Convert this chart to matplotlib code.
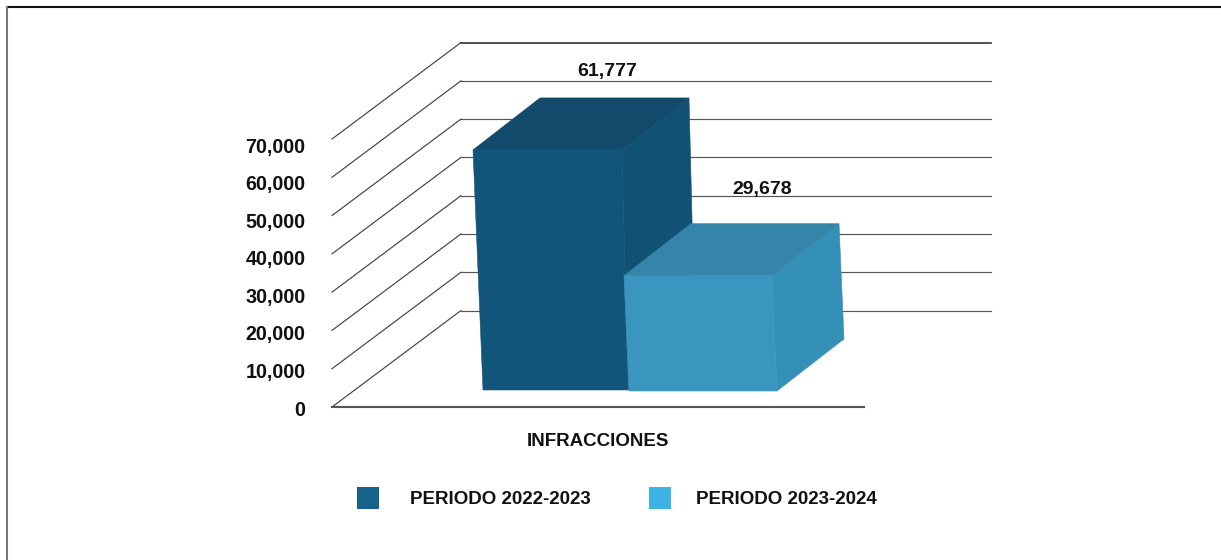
import matplotlib
matplotlib.use("Agg")
import matplotlib.pyplot as plt
from matplotlib.lines import Line2D
from matplotlib.patches import Patch, Polygon
from matplotlib.transforms import Affine2D

periods = ["PERIODO 2022-2023", "PERIODO 2023-2024"]
values = [61777, 29678]
value_labels = ["61,777", "29,678"]
tick_values = [0, 10000, 20000, 30000, 40000, 50000, 60000, 70000]
tick_labels = ["0", "10,000", "20,000", "30,000", "40,000", "50,000", "60,000", "70,000"]
category = "INFRACCIONES"

W, H = 1221, 560
plt.rcParams["font.family"] = ["Liberation Sans", "DejaVu Sans"]
plt.rcParams["font.weight"] = "bold"
plt.rcParams["font.size"] = 13.5
text_color = "#111111"

fig = plt.figure(figsize=(W / 100, H / 100), dpi=100)

# x runs in pixels, y in chart units, front wall goes from y=407 to y=139
left, right, y0, y70 = 332, 991, 407, 139
ax = fig.add_axes([left / W, (H - y0) / H, (right - left) / W, (y0 - y70) / H])
ax.set_xlim(left, right)
ax.set_ylim(0, 70000)
for s in ax.spines.values():
    s.set_visible(False)
ax.patch.set_alpha(0)

units_per_px = 70000 / (y0 - y70)
wall_dx = 129
wall_dy = 96.5 * units_per_px

# side wall + back wall lines
for v in tick_values:
    top = v == tick_values[-1]
    ax.plot([left, left + wall_dx], [v, v + wall_dy], color="#444444", lw=0.85,
            clip_on=False, zorder=1)
    ax.plot([left + wall_dx, right], [v + wall_dy, v + wall_dy],
            color="#333333" if top else "#555555", lw=1.2 if top else 0.85,
            clip_on=False, zorder=1)
ax.plot([left, 864], [0, 0], color="#555555", lw=1.5, clip_on=False, zorder=1)

# bars: front lower edge, front upper edge, depth
bar_scale = 1.015
depth_dx, depth_dy = 67, 52 * units_per_px
face_colors = ["#12557A", "#3A96BE"]
top_colors = ["#124A6B", "#3485A9"]
side_colors = ["#115173", "#3590B7"]
bottom_edges = [(483, 628), (629, 777)]
top_edges = [(473, 622), (624, 772)]
bases = [17 * units_per_px, 16 * units_per_px]
label_x = [607, 762]
label_gap = [26, 34]

for i in range(len(values)):
    b0, b1 = bottom_edges[i]
    t0, t1 = top_edges[i]
    base = bases[i]
    top = base + values[i] * bar_scale
    z = 3 + i
    ax.add_patch(Polygon([(b1, base), (t1, top), (t1 + depth_dx, top + depth_dy),
                          (b1 + depth_dx, base + depth_dy)],
                         fc=side_colors[i], ec=side_colors[i], lw=0.4, clip_on=False, zorder=z))
    ax.add_patch(Polygon([(t0, top), (t1, top), (t1 + depth_dx, top + depth_dy),
                          (t0 + depth_dx, top + depth_dy)],
                         fc=top_colors[i], ec=top_colors[i], lw=0.4, clip_on=False, zorder=z))
    ax.add_patch(Polygon([(b0, base), (b1, base), (t1, top), (t0, top)],
                         fc=face_colors[i], ec=face_colors[i], lw=0.4, clip_on=False, zorder=z))
    ax.text(label_x[i], top + depth_dy + label_gap[i] * units_per_px, value_labels[i],
            ha="center", va="center", color=text_color, fontsize=14, zorder=6)

ax.set_yticks(tick_values)
ax.set_yticklabels(tick_labels, color=text_color, fontsize=14.2)
ax.tick_params(axis="y", length=0, pad=19)
# the printed labels sit a little closer together than the lines
for k, lab in enumerate(ax.get_yticklabels()):
    lab.set_transform(lab.get_transform() + Affine2D().translate(0, -1 - k * 0.72))

ax.set_xticks([598])
ax.set_xticklabels([category], color=text_color)
ax.tick_params(axis="x", length=0, pad=18.7)

handles = [Patch(fc="#156389", ec="none", label=periods[0]),
           Patch(fc="#3DB2E3", ec="none", label=periods[1])]
leg = fig.legend(handles=handles, loc="center left", bbox_to_anchor=(357 / W, 1 - 498 / H),
                 ncol=2, frameon=False, borderpad=0, borderaxespad=0, handlelength=1.17,
                 handleheight=1.43, handletextpad=1.65, columnspacing=3.1, labelcolor=text_color)
leg.get_texts()[1].set_x(-6)

# page frame, only top and left are visible
fig.add_artist(Line2D([7 / W, 1], [1 - 7 / H, 1 - 7 / H], color="#111111", lw=1.5))
fig.add_artist(Line2D([7.5 / W, 7.5 / W], [0, 1 - 7 / H], color="#777777", lw=1.5))

fig.savefig("out.png", dpi=100)
